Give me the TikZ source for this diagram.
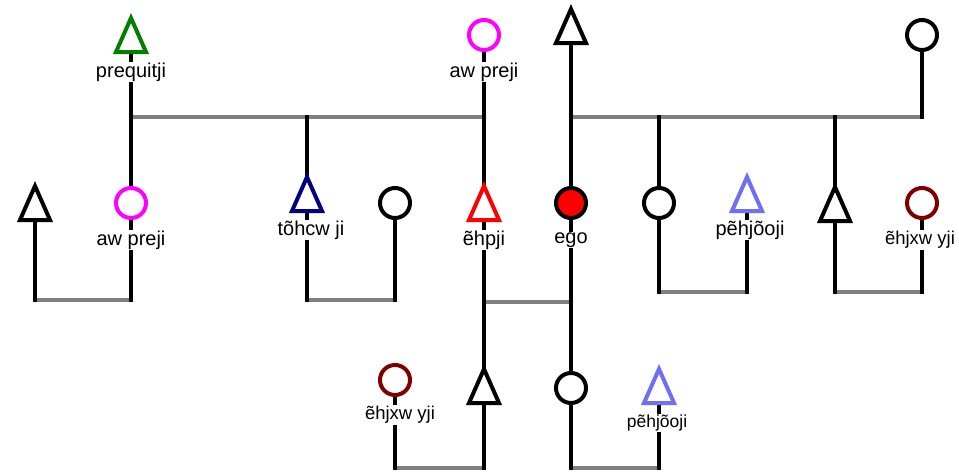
\documentclass[tikz,border=0pt]{standalone}
\usepackage{fontspec}
\setmainfont{Liberation Sans}
\pgfdeclarelayer{background}
\pgfsetlayers{background,main}
\definecolor{kingreen}{HTML}{008000}
\definecolor{kinmagenta}{HTML}{FF00FF}
\definecolor{kinnavy}{HTML}{000080}
\definecolor{kinred}{HTML}{FF0000}
\definecolor{kinblue}{HTML}{6F6FF5}
\definecolor{kinmaroon}{HTML}{800000}
\definecolor{kingray}{HTML}{808080}
\tikzset{
  female/.style={circle, draw=#1, line width=4pt, fill=white, minimum size=30pt, inner sep=0pt},
  female/.default=black,
  malebox/.style={rectangle, minimum width=30pt, minimum height=34pt, inner sep=0pt, outer sep=0pt},
  maleshape/.style={draw=#1, line width=4pt, fill=white, line join=miter},
  kinline/.style={line width=4pt, black, line cap=rect},
  tieline/.style={line width=4.5pt, kingray},
  kinname/.style={fill=white, inner sep=1pt, text=black, font=\fontsize{20}{22}\selectfont},
  smallname/.style={kinname, font=\fontsize{18.5}{20}\selectfont},
  tinyname/.style={kinname, font=\fontsize{17.5}{19}\selectfont},
}
\newcommand\maletri[2]{\draw[maleshape=#2] (#1.north) -- (#1.south east) -- (#1.south west) -- cycle;}
\begin{document}
\begin{tikzpicture}[x=1pt, y=-1pt]
\useasboundingbox (0,0) rectangle (959,472);

% generation 1
\node[malebox] (prequitji) at (131,35) {};
\node[female=kinmagenta] (awtop) at (484,35) {};
\node[malebox] (egofather) at (571,26) {};
\node[female] (egomother) at (922,35) {};

% generation 2
\node[malebox] (husbA) at (35,203) {};
\node[female=kinmagenta] (awmid) at (131,203) {};
\node[malebox] (tohcw) at (307,194) {};
\node[female] (wifeB) at (395,203) {};
\node[malebox] (ehpji) at (484,203) {};
\node[circle, draw=black, fill=kinred, line width=4pt, minimum size=30pt, inner sep=0pt] (ego) at (571,203) {};
\node[female] (sisC) at (659,203) {};
\node[malebox] (pehjooA) at (747,194) {};
\node[malebox] (broD) at (835,204) {};
\node[female=kinmaroon] (ehjxwA) at (922,203) {};

% generation 3
\node[female=kinmaroon] (ehjxwB) at (395,380) {};
\node[malebox] (sonE) at (484,386) {};
\node[female] (daughterF) at (571,388) {};
\node[malebox] (pehjooB) at (659,386) {};

% junction points
\coordinate (j1a) at (131,117);
\coordinate (j1b) at (484,117);
\coordinate (j1c) at (571,117);
\coordinate (j1d) at (922,117);
\coordinate (j1e) at (307,117);
\coordinate (j1f) at (659,117);
\coordinate (j1g) at (835,117);
\coordinate (j2a) at (35,300);
\coordinate (j2b) at (131,300);
\coordinate (j2c) at (307,300);
\coordinate (j2d) at (395,300);
\coordinate (j2e) at (484,302);
\coordinate (j2f) at (571,302);
\coordinate (j2g) at (659,292);
\coordinate (j2h) at (747,292);
\coordinate (j2i) at (835,292);
\coordinate (j2j) at (922,292);
\coordinate (j3a) at (395,468);
\coordinate (j3b) at (484,468);
\coordinate (j3c) at (571,468);
\coordinate (j3d) at (659,468);

\begin{pgfonlayer}{background}
  % sibling and marriage ties
  \draw[tieline] (j1a) -- (j1b);
  \draw[tieline] (j1c) -- (j1d);
  \draw[tieline] (j2a) -- (j2b);
  \draw[tieline] (j2c) -- (j2d);
  \draw[tieline] (j2e) -- (j2f);
  \draw[tieline] (j2g) -- (j2h);
  \draw[tieline] (j2i) -- (j2j);
  \draw[tieline] (j3a) -- (j3b);
  \draw[tieline] (j3c) -- (j3d);
  % descent lines
  \draw[kinline] (prequitji.south) -- (awmid.north);
  \draw[kinline] (awtop.south) -- (ehpji.north);
  \draw[kinline] (egofather.south) -- (ego.north);
  \draw[kinline] (egomother.south) -- (j1d);
  \draw[kinline] (j1e) -- (tohcw.north);
  \draw[kinline] (j1f) -- (sisC.north);
  \draw[kinline] (j1g) -- (broD.north);
  \draw[kinline] (husbA.south) -- (j2a);
  \draw[kinline] (awmid.south) -- (j2b);
  \draw[kinline] (tohcw.south) -- (j2c);
  \draw[kinline] (wifeB.south) -- (j2d);
  \draw[kinline] (ehpji.south) -- (sonE.north);
  \draw[kinline] (ego.south) -- (daughterF.north);
  \draw[kinline] (sisC.south) -- (j2g);
  \draw[kinline] (pehjooA.south) -- (j2h);
  \draw[kinline] (broD.south) -- (j2i);
  \draw[kinline] (ehjxwA.south) -- (j2j);
  \draw[kinline] (ehjxwB.south) -- (j3a);
  \draw[kinline] (sonE.south) -- (j3b);
  \draw[kinline] (daughterF.south) -- (j3c);
  \draw[kinline] (pehjooB.south) -- (j3d);
\end{pgfonlayer}

% male symbols
\maletri{prequitji}{kingreen}
\maletri{egofather}{black}
\maletri{husbA}{black}
\maletri{tohcw}{kinnavy}
\maletri{ehpji}{kinred}
\maletri{pehjooA}{kinblue}
\maletri{broD}{black}
\maletri{sonE}{black}
\maletri{pehjooB}{kinblue}

% names
\node[kinname] (lprequitji) at (131,72) {prequitji};
\node[kinname] (lawtop) at (484,72) {aw preji};
\node[kinname] (lawmid) at (131,240) {aw preji};
\node[kinname] (ltohcw) at (311,230) {tõhcw ji};
\node[kinname] (lehpji) at (484,240) {ẽhpji};
\node[kinname] (lego) at (571,240) {ego};
\node[kinname] (lpehjooA) at (750,230) {pẽhjõoji};
\node[smallname] (lehjxwA) at (920,240) {ẽhjxw yji};
\node[smallname] (lehjxwB) at (400,415) {ẽhjxw yji};
\node[tinyname] (lpehjooB) at (657,423) {pẽhjõoji};
\end{tikzpicture}
\end{document}
